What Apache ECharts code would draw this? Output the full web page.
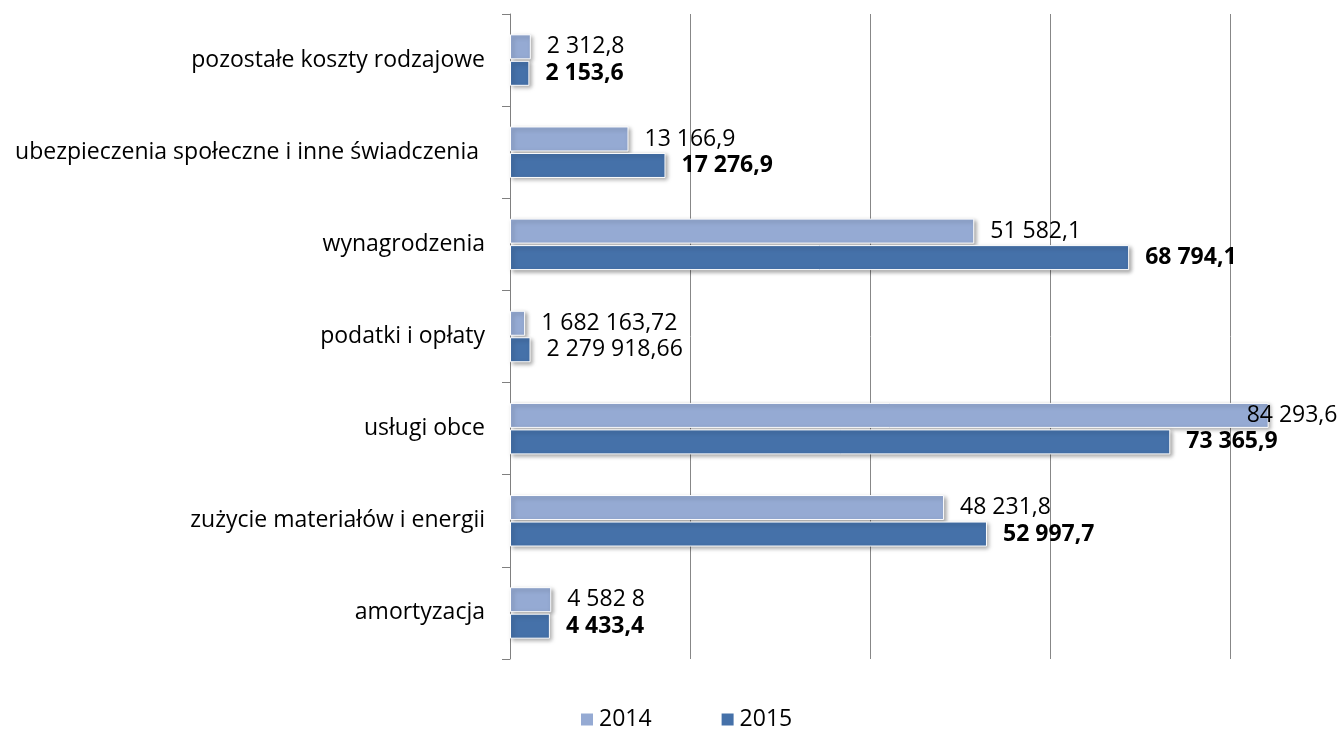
<!DOCTYPE html>
<html>
<head>
<meta charset="utf-8">
<script src="https://cdn.jsdelivr.net/npm/echarts@6/dist/echarts.min.js"></script>
<style>
  html, body { margin: 0; padding: 0; background: #fff; }
  #main { width: 1342px; height: 729px; }
</style>
</head>
<body>
<div id="main"></div>
<script>
// categories, top to bottom
var categories = [
    'pozostałe koszty rodzajowe',
    'ubezpieczenia społeczne i inne świadczenia ',
    'wynagrodzenia',
    'podatki i opłaty',
    'usługi obce',
    'zużycie materiałów i energii',
    'amortyzacja'
];
var years = ['2014', '2015'];
var values2014 = [2312.8, 13166.9, 51582.1, 1682.16, 84293.6, 48231.8, 4582.8];
var values2015 = [2153.6, 17276.9, 68794.1, 2279.92, 73365.9, 52997.7, 4433.4];
// labels as printed on the chart
var labels2014 = ['2 312,8', '13 166,9', '51 582,1', '1 682 163,72', '84 293,6', '48 231,8', '4 582 8'];
var labels2015 = ['2 153,6', '17 276,9', '68 794,1', '2 279 918,66', '73 365,9', '52 997,7', '4 433,4'];

var myChart = echarts.init(document.getElementById('main'));

function makeData(vals, labs) {
    return vals.map(function (v, i) {
        var item = { value: v, labelText: labs[i] };
        if (v > 80000) {
            item.label = { offset: [-38, 0] };   // label sits over the bar end
        }
        return item;
    });
}

var barStyle = {
    borderColor: '#fff',
    borderWidth: 1,
    shadowColor: 'rgba(0,0,0,0.35)',
    shadowBlur: 4,
    shadowOffsetX: 2,
    shadowOffsetY: 2
};

option = {
    textStyle: { fontFamily: 'Open Sans' },
    grid: { left: 510, right: -68, top: 14, bottom: 70, outerBoundsMode: 'none' },
    legend: {
        top: 703,
        left: 574,
        itemWidth: 14,
        itemHeight: 14,
        itemGap: 68,
        icon: 'rect',
        textStyle: { fontSize: 23, color: '#000' },
        data: years
    },
    xAxis: {
        type: 'value',
        min: 0,
        max: 100000,
        interval: 20000,
        axisLine: { show: false },
        axisTick: { show: false },
        axisLabel: { show: false },
        splitLine: { lineStyle: { color: '#878787', width: 1 } }
    },
    yAxis: {
        type: 'category',
        inverse: true,
        data: categories,
        axisLine: { show: true, lineStyle: { color: '#808080', width: 1 } },
        axisTick: { show: true, inside: false, length: 8, interval: 0, lineStyle: { color: '#808080', width: 1 } },
        axisLabel: { fontSize: 23, color: '#000', margin: 25 }
    },
    series: [
        {
            name: years[0],
            type: 'bar',
            barWidth: 25,
            barGap: '6%',
            data: makeData(values2014, labels2014),
            itemStyle: Object.assign({ color: '#95AAD3' }, barStyle),
            label: {
                show: true,
                position: 'right',
                distance: 16,
                fontSize: 23,
                color: '#000',
                formatter: function (p) { return p.data.labelText; }
            }
        },
        {
            name: years[1],
            type: 'bar',
            barWidth: 25,
            data: makeData(values2015, labels2015),
            itemStyle: Object.assign({ color: '#4571A9' }, barStyle),
            label: {
                show: true,
                position: 'right',
                distance: 16,
                fontSize: 23,
                fontWeight: 'bold',
                color: '#000',
                formatter: function (p) { return p.data.labelText; }
            }
        }
    ]
};

// podatki i opłaty 2015 label is printed in normal weight
option.series[1].data[3].label = { fontWeight: 'normal' };

myChart.setOption(option);
</script>
</body>
</html>
